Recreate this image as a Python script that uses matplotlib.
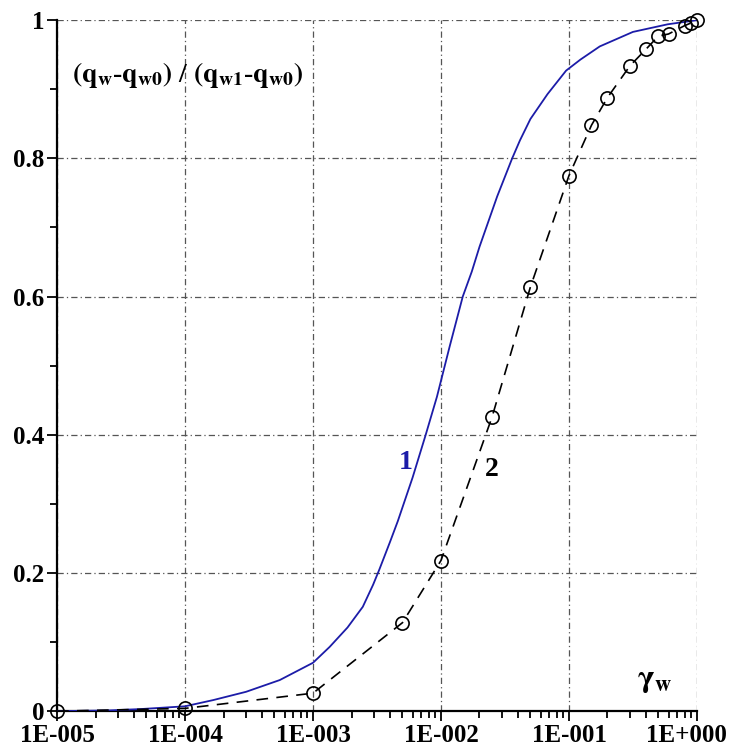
import matplotlib
matplotlib.use('Agg')
import matplotlib.pyplot as plt
import matplotlib.transforms as mtransforms
from matplotlib.ticker import FixedLocator, FuncFormatter, LogLocator, NullFormatter

plt.rcParams['font.family'] = ['Liberation Serif', 'DejaVu Serif']
plt.rcParams['font.weight'] = 'bold'
plt.rcParams['mathtext.fontset'] = 'stix'

# curve 1 (solid blue)
x1 = [1e-5, 2.5e-5, 4.5e-5, 1e-4, 1.66e-4, 3.0e-4, 5.5e-4, 1e-3, 1.35e-3,
      1.86e-3, 2.45e-3, 2.95e-3, 3.3e-3, 4.0e-3, 4.6e-3, 6.0e-3, 7.6e-3, 9.3e-3,
      1.17e-2, 1.48e-2, 1.74e-2, 2.0e-2, 2.75e-2, 3.6e-2, 4.14e-2, 5.0e-2,
      6.8e-2, 9.5e-2, 0.123, 0.174, 0.316, 0.59, 1.0]
y1 = [0.0, 0.001, 0.003, 0.007, 0.016, 0.028, 0.045, 0.070, 0.093,
      0.121, 0.151, 0.183, 0.205, 0.245, 0.275, 0.338, 0.400, 0.455,
      0.528, 0.600, 0.636, 0.672, 0.745, 0.800, 0.826, 0.857,
      0.893, 0.927, 0.943, 0.962, 0.983, 0.994, 1.0]

# curve 2 (dashed with circles)
x2 = [1e-5, 1e-4, 1e-3, 5e-3, 1e-2, 2.5e-2, 5e-2, 0.1, 0.15, 0.2, 0.3, 0.4,
      0.5, 0.6, 0.8, 0.9, 1.0]
y2 = [0.0, 0.004, 0.026, 0.128, 0.218, 0.425, 0.614, 0.775, 0.848, 0.888,
      0.934, 0.958, 0.977, 0.980, 0.992, 0.996, 1.0]

y_ticks = [0, 0.2, 0.4, 0.6, 0.8, 1]
y_labels = ['0', '0.2', '0.4', '0.6', '0.8', '1']
x_ticks = [1e-5, 1e-4, 1e-3, 1e-2, 1e-1, 1e0]
x_labels = ['1E-005', '1E-004', '1E-003', '1E-002', '1E-001', '1E+000']

fig = plt.figure(figsize=(7.33, 7.47), dpi=100)
ax = fig.add_axes([0.0778, 0.048, 0.873, 0.925])

ax.plot(x1, y1, color='#1c1ca8', lw=1.3, zorder=3)
ax.plot(x2, y2, color='black', lw=1.2, ls=(0, (7, 5)), marker='o', ms=9.5,
        mfc='none', mec='black', mew=1.2, zorder=4, clip_on=False)

ax.set_xscale('log')
ax.set_xlim(1e-5, 1)
ax.set_ylim(0, 1)

ax.xaxis.set_major_locator(FixedLocator(x_ticks))
ax.xaxis.set_major_formatter(FuncFormatter(lambda v, p: x_labels[x_ticks.index(v)] if v in x_ticks else ''))
ax.xaxis.set_minor_locator(LogLocator(base=10, subs=range(2, 10)))
ax.xaxis.set_minor_formatter(NullFormatter())
ax.yaxis.set_major_locator(FixedLocator(y_ticks))
ax.set_yticklabels(y_labels)
ax.yaxis.set_minor_locator(FixedLocator([0.1, 0.3, 0.5, 0.7, 0.9]))

ax.grid(True, which='major', color='#555555', lw=0.9, ls=(0, (5, 2.5, 1, 2.5)))
for s in ['top', 'right']:
    ax.spines[s].set_visible(False)
for s in ['left', 'bottom']:
    ax.spines[s].set_linewidth(1.6)

ax.tick_params(axis='both', which='major', labelsize=18, width=1.3, length=7, direction='out')
ax.tick_params(axis='x', which='major', pad=2)
ax.tick_params(axis='y', which='major', pad=2)
ax.tick_params(axis='both', which='minor', width=1.3, length=5, direction='out')

# keep the last x label inside the figure
last = ax.get_xticklabels()[-1]
last.set_transform(last.get_transform() + mtransforms.ScaledTranslation(-10 / 100, 0, fig.dpi_scale_trans))

ax.text(1.3e-5, 0.91, r'$\mathbf{(q_w}$-$\mathbf{q_{w0})}$ / $\mathbf{(q_{w1}}$-$\mathbf{q_{w0})}$',
        fontsize=20, fontweight='bold')
ax.text(0.34, 0.035, r'$\mathrm{\gamma}_{\mathbf{w}}$', fontsize=23, fontweight='normal')
ax.text(4.7e-3, 0.35, '1', color='#1c1ca8', fontsize=20, fontweight='bold')
ax.text(2.2e-2, 0.34, '2', color='black', fontsize=20, fontweight='bold')

fig.savefig('out.png', dpi=100)
